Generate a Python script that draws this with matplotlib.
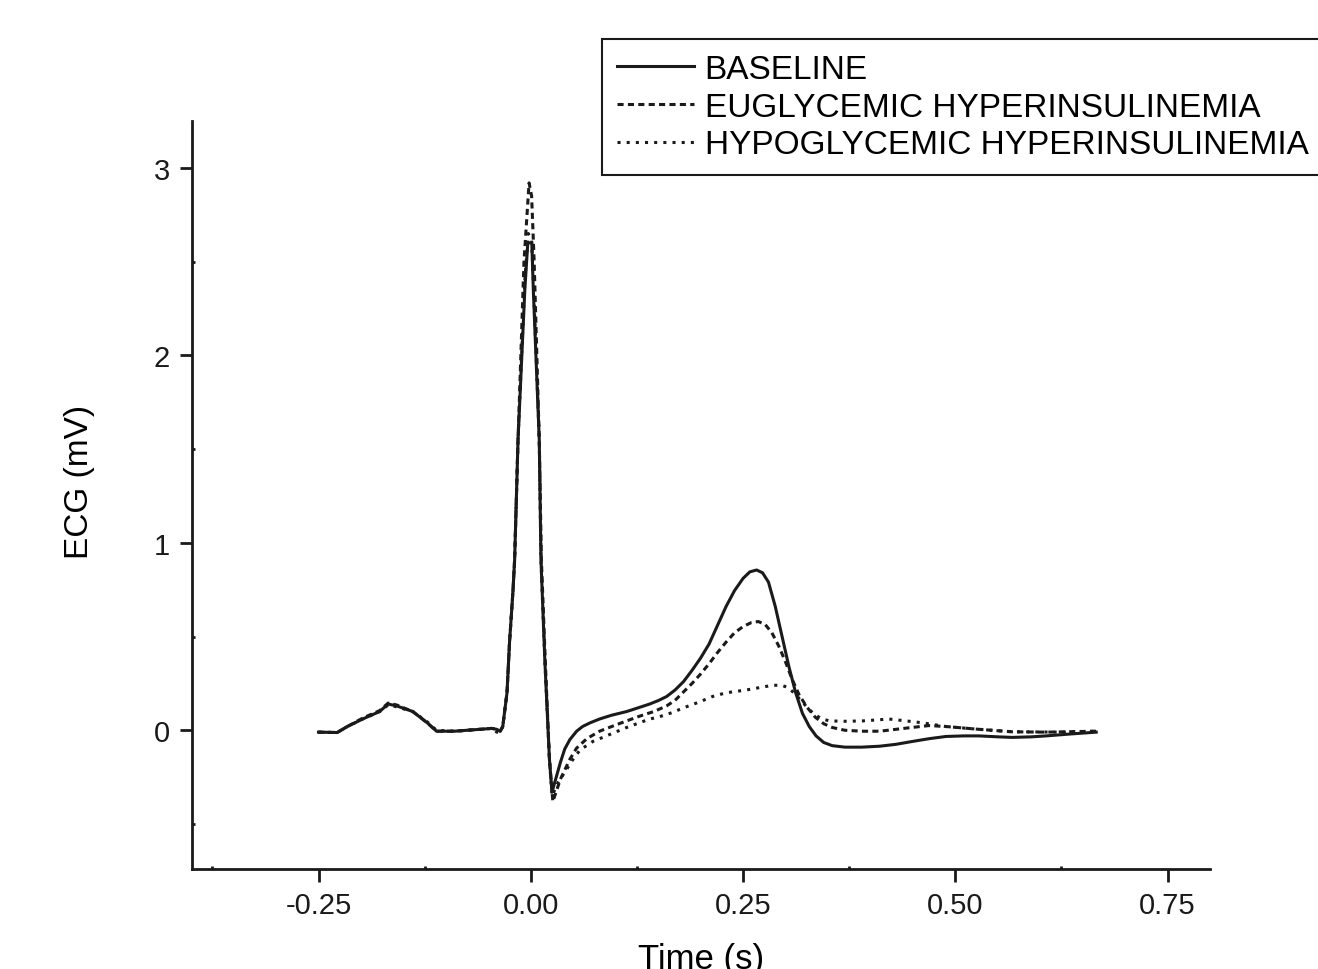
import matplotlib
matplotlib.use("Agg")
import matplotlib.pyplot as plt
from matplotlib.ticker import MultipleLocator

plt.rcParams['font.family'] = ['Liberation Sans', 'DejaVu Sans']

# ---- data (time in s, ECG in mV) ----
t_base = [-0.25, -0.228, -0.216, -0.198, -0.178, -0.168, -0.158, -0.139, -0.122, -0.111,
          -0.09, -0.06, -0.046, -0.04, -0.036, -0.033, -0.028, -0.025, -0.021, -0.019,
          -0.015, -0.007, -0.0035, 0.0012, 0.003, 0.010, 0.012, 0.0165, 0.022, 0.025,
          0.030, 0.035, 0.040, 0.046, 0.054, 0.061, 0.070, 0.081, 0.095, 0.113,
          0.130, 0.140, 0.150, 0.160, 0.170, 0.180, 0.190, 0.200, 0.210, 0.220,
          0.230, 0.240, 0.250, 0.258, 0.266, 0.273, 0.280, 0.288, 0.296, 0.304,
          0.312, 0.320, 0.328, 0.336, 0.345, 0.355, 0.370, 0.390, 0.411, 0.430,
          0.449, 0.469, 0.489, 0.510, 0.528, 0.550, 0.567, 0.590, 0.607, 0.635, 0.666]
v_base = [-0.01, -0.012, 0.02, 0.06, 0.10, 0.14, 0.13, 0.10, 0.04, -0.005,
          -0.005, 0.005, 0.01, 0.005, -0.005, 0.02, 0.2, 0.47, 0.74, 0.91,
          1.55, 2.35, 2.6, 2.6, 2.35, 1.55, 0.91, 0.38, -0.155, -0.33,
          -0.25, -0.17, -0.10, -0.05, -0.005, 0.02, 0.04, 0.06, 0.08, 0.10,
          0.125, 0.14, 0.158, 0.18, 0.215, 0.26, 0.32, 0.385, 0.46, 0.56,
          0.66, 0.745, 0.81, 0.845, 0.855, 0.84, 0.79, 0.66, 0.50, 0.34,
          0.20, 0.09, 0.02, -0.03, -0.065, -0.082, -0.09, -0.09, -0.085, -0.075,
          -0.06, -0.045, -0.033, -0.03, -0.03, -0.035, -0.038, -0.035, -0.03, -0.02, -0.01]

t_eu = [-0.25, -0.228, -0.216, -0.198, -0.178, -0.168, -0.158, -0.139, -0.122, -0.111,
        -0.09, -0.06, -0.046, -0.04, -0.036, -0.033, -0.028, -0.025, -0.021, -0.019,
        -0.015, -0.008, -0.002, 0.001, 0.004, 0.010, 0.0125, 0.017, 0.022, 0.026,
        0.035, 0.046, 0.054, 0.066, 0.081, 0.101, 0.128, 0.145, 0.160, 0.170,
        0.180, 0.190, 0.200, 0.210, 0.220, 0.230, 0.240, 0.250, 0.260, 0.268,
        0.276, 0.284, 0.292, 0.300, 0.308, 0.316, 0.325, 0.335, 0.345, 0.355,
        0.370, 0.390, 0.411, 0.430, 0.449, 0.469, 0.489, 0.510, 0.528, 0.567, 0.607, 0.666]
v_eu = [-0.01, -0.012, 0.02, 0.065, 0.105, 0.145, 0.135, 0.10, 0.04, -0.005,
        -0.005, 0.005, 0.01, 0.005, -0.005, 0.02, 0.2, 0.47, 0.74, 0.91,
        1.55, 2.5, 2.92, 2.85, 2.5, 1.55, 0.91, 0.38, -0.155, -0.38,
        -0.26, -0.155, -0.095, -0.045, -0.005, 0.03, 0.075, 0.10, 0.13, 0.16,
        0.205, 0.25, 0.30, 0.355, 0.415, 0.47, 0.52, 0.553, 0.575, 0.58,
        0.565, 0.52, 0.45, 0.365, 0.27, 0.19, 0.125, 0.07, 0.035, 0.015,
        0.0, -0.005, -0.005, 0.005, 0.015, 0.025, 0.02, 0.012, 0.005, -0.008, -0.01, -0.005]

t_hypo = [-0.25, -0.228, -0.216, -0.198, -0.178, -0.168, -0.158, -0.139, -0.122, -0.111,
          -0.09, -0.06, -0.046, -0.04, -0.036, -0.033, -0.028, -0.025, -0.021, -0.019,
          -0.015, -0.007, -0.003, 0.001, 0.003, 0.010, 0.012, 0.0165, 0.022, 0.025,
          0.032, 0.042, 0.049, 0.058, 0.073, 0.089, 0.113, 0.140, 0.150, 0.167,
          0.180, 0.198, 0.214, 0.230, 0.254, 0.270, 0.285, 0.295, 0.302, 0.310,
          0.318, 0.326, 0.334, 0.343, 0.352, 0.370, 0.391, 0.410, 0.422, 0.442,
          0.461, 0.489, 0.528, 0.567, 0.626, 0.666]
v_hypo = [-0.01, -0.012, 0.02, 0.06, 0.10, 0.135, 0.125, 0.10, 0.045, 0.0,
          -0.005, 0.005, 0.01, -0.01, -0.01, 0.02, 0.2, 0.47, 0.74, 0.91,
          1.55, 2.4, 2.65, 2.62, 2.4, 1.55, 0.91, 0.38, -0.155, -0.35,
          -0.28, -0.21, -0.16, -0.105, -0.06, -0.03, 0.015, 0.06, 0.07, 0.095,
          0.12, 0.15, 0.18, 0.20, 0.215, 0.228, 0.24, 0.24, 0.23, 0.20,
          0.16, 0.12, 0.085, 0.06, 0.05, 0.048, 0.05, 0.056, 0.06, 0.05,
          0.04, 0.02, 0.005, -0.008, -0.01, -0.005]

labels = ["BASELINE", "EUGLYCEMIC HYPERINSULINEMIA", "HYPOGLYCEMIC HYPERINSULINEMIA"]
x_ticks = [-0.25, 0.0, 0.25, 0.5, 0.75]
x_ticklabels = ["-0.25", "0.00", "0.25", "0.50", "0.75"]
y_ticks = [0, 1, 2, 3]

W, H = 1318, 970
fig = plt.figure(figsize=(W / 100, H / 100), dpi=100)
ax = fig.add_axes([192 / W, (970 - 870) / H, (1210 - 192) / W, (870 - 122) / H])

lc = '#1a1a1a'
ax.plot(t_base, v_base, color=lc, lw=2.2, ls='-', label=labels[0])
ax.plot(t_eu, v_eu, color=lc, lw=2.2, ls=(0, (2.0, 1.4)), label=labels[1])
ax.plot(t_hypo, v_hypo, color=lc, lw=2.2, ls=(0, (1.0, 2.0)), label=labels[2])

ax.set_xlim(-0.399, 0.8)
ax.set_ylim(-0.74, 3.25)
ax.set_xticks(x_ticks)
ax.set_xticklabels(x_ticklabels)
ax.set_yticks(y_ticks)
ax.xaxis.set_minor_locator(MultipleLocator(0.125))
ax.yaxis.set_minor_locator(MultipleLocator(0.5))

for s in ['top', 'right']:
    ax.spines[s].set_visible(False)
for s in ['left', 'bottom']:
    ax.spines[s].set_linewidth(2.0)
    ax.spines[s].set_color(lc)

ax.tick_params(which='major', direction='out', length=9, width=2, labelsize=21, pad=7, colors=lc)
ax.tick_params(which='minor', direction='in', length=2.5, width=2, colors=lc)
ax.tick_params(top=False, right=False, which='both')

ax.set_xlabel("Time (s)", fontsize=25)
ax.set_ylabel("ECG (mV)", fontsize=24)
ax.xaxis.set_label_coords(0.5, -0.097)
ax.yaxis.set_label_coords(-0.095, 0.519)

leg = ax.legend(loc='upper left', bbox_to_anchor=(602 / W, 1 - 40 / H),
                bbox_transform=fig.transFigure, fontsize=24, frameon=True,
                fancybox=False, framealpha=1, edgecolor=lc, borderpad=0.45,
                labelspacing=0.2, handlelength=2.3, handletextpad=0.33,
                borderaxespad=0)
leg.get_frame().set_linewidth(1.5)

fig.savefig("out.png", dpi=100)
